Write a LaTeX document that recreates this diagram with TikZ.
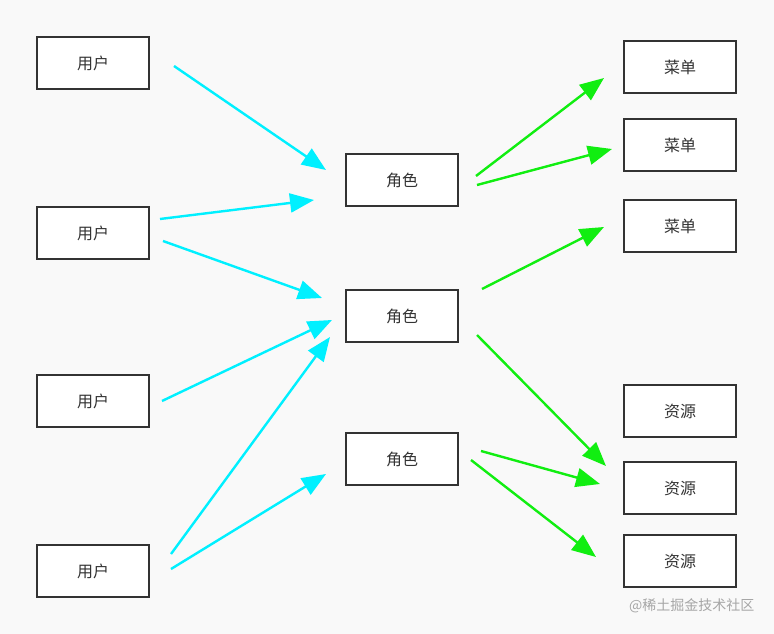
\documentclass[tikz,border=0pt]{standalone}
\usepackage{fontspec}
\newfontfamily\cjk{Noto Sans CJK SC}
\usetikzlibrary{arrows.meta}
\definecolor{bg}{HTML}{F9F9F9}
\definecolor{bd}{HTML}{333333}
\definecolor{cy}{HTML}{00F0FF}
\definecolor{gr}{HTML}{11EE11}
\begin{document}
\begin{tikzpicture}[x=1pt,y=-1pt,
 box/.style={draw=bd,line width=1.8pt,fill=white,minimum width=112pt,minimum height=52pt,inner sep=0pt,font=\cjk\fontsize{16}{18}\selectfont,text=bd},
 ca/.style={draw=cy,line width=2.4pt,-{Triangle[length=24pt,width=19pt]}},
 ga/.style={draw=gr,line width=2.4pt,-{Triangle[length=24pt,width=19pt]}}]
\fill[bg] (0,0) rectangle (774,634);
\node[box] (u1) at (93,63) {用户};
\node[box] (u2) at (93,233) {用户};
\node[box] (u3) at (93,401) {用户};
\node[box] (u4) at (93,571) {用户};
\node[box] (r1) at (402,180) {角色};
\node[box] (r2) at (402,316) {角色};
\node[box] (r3) at (402,459) {角色};
\node[box] (m1) at (680,67) {菜单};
\node[box] (m2) at (680,145) {菜单};
\node[box] (m3) at (680,226) {菜单};
\node[box] (s1) at (680,411) {资源};
\node[box] (s2) at (680,488) {资源};
\node[box] (s3) at (680,561) {资源};
\foreach \n/\a/\b/\c/\d in {a1/174/66/326/170, a2/160/219/314/200, a3/163/241/322/298, a4/162/401/332/320, a5/171/554/330/337, a6/171/569/326/474}{
 \coordinate (\n s) at (\a,\b); \coordinate (\n e) at (\c,\d); \draw[ca] (\n s) -- (\n e);}
\foreach \n/\a/\b/\c/\d in {b1/476/176/604/78, b2/477/185/612/149, b3/482/289/604/227, b4/477/335/606/466, b5/481/451/600/484, b6/471/460/596/557}{
 \coordinate (\n s) at (\a,\b); \coordinate (\n e) at (\c,\d); \draw[ga] (\n s) -- (\n e);}
\node[font=\cjk\fontsize{14}{16}\selectfont,text=gray!70,anchor=east] (wm) at (758,606) {@稀土掘金技术社区};
\end{tikzpicture}
\end{document}
